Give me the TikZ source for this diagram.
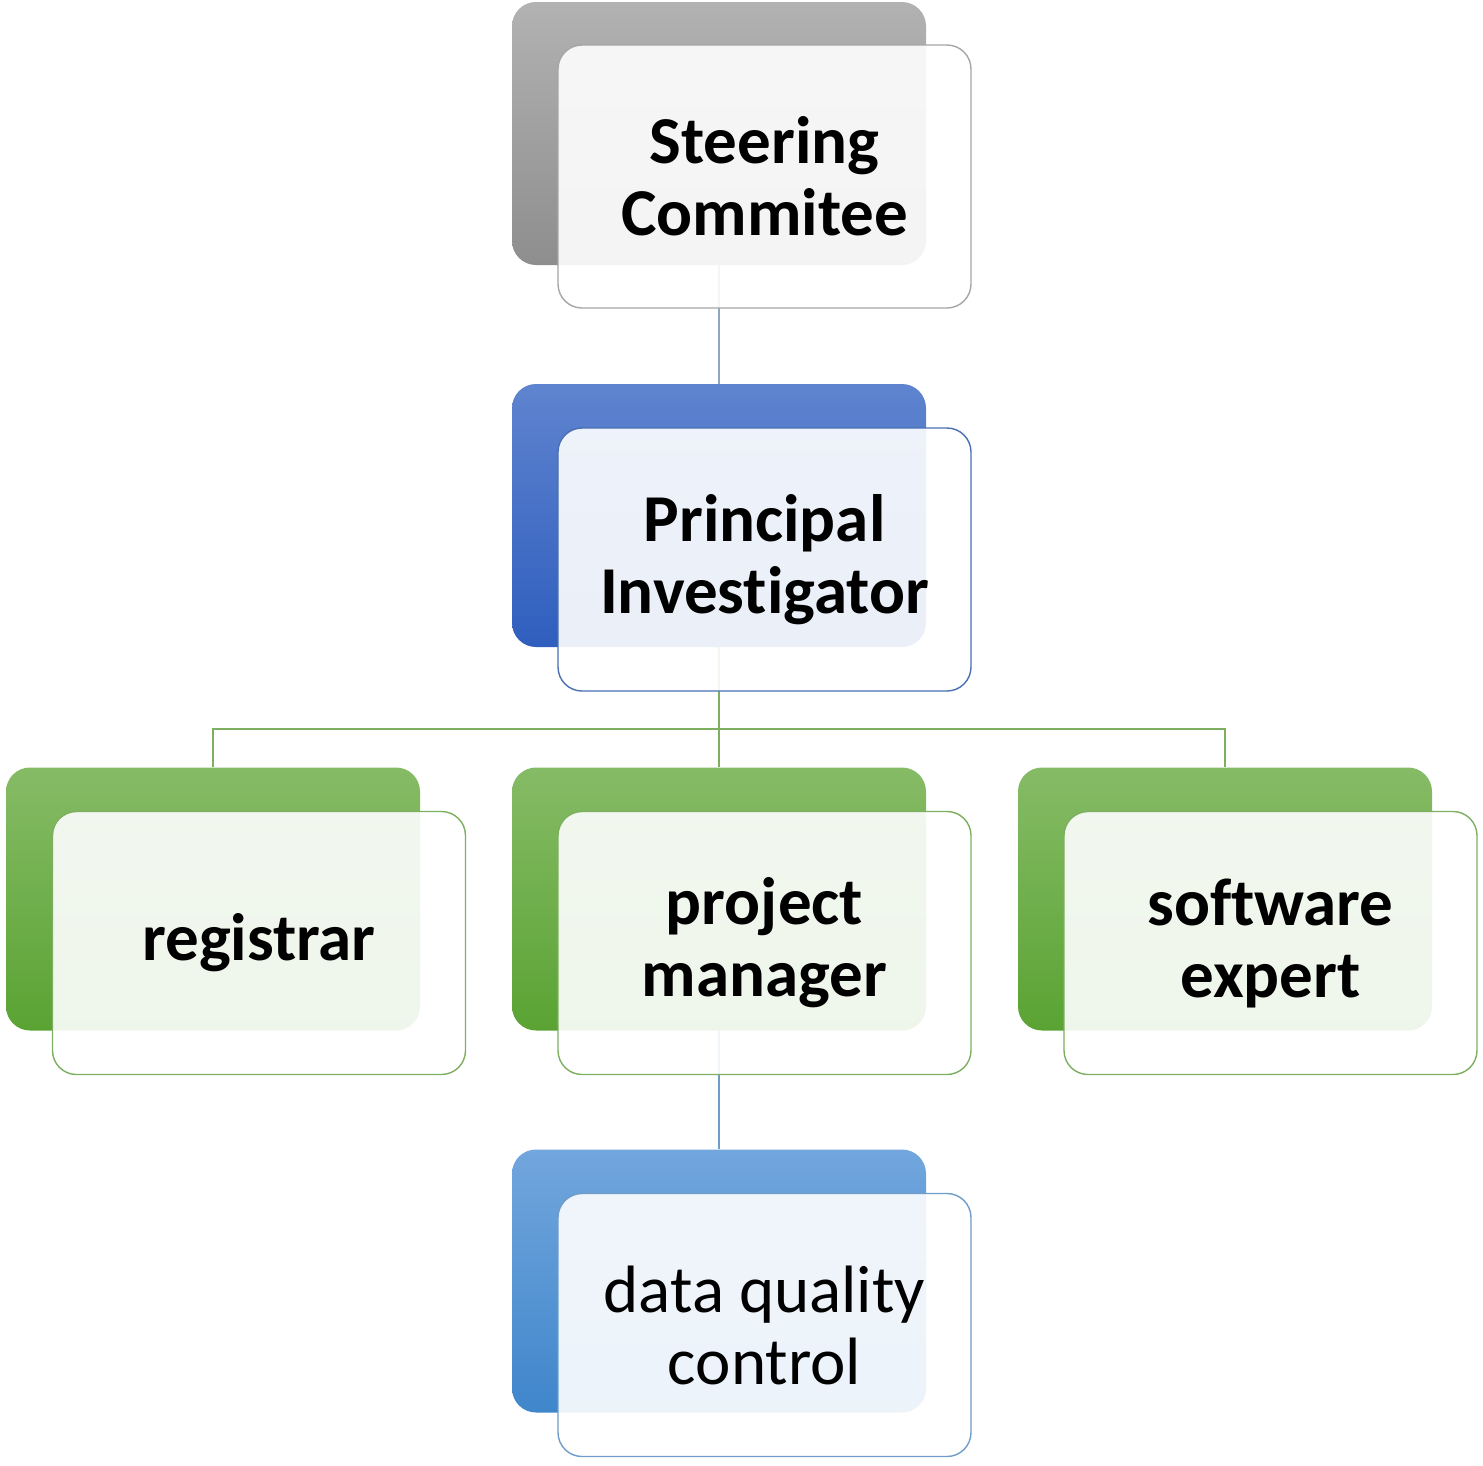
\documentclass[tikz,border=0pt]{standalone}
\usepackage{fontspec}
\setmainfont{Carlito}[Ligatures=NoCommon]
\usetikzlibrary{positioning}
\definecolor{grayTop}{HTML}{B2B2B2}
\definecolor{grayBot}{HTML}{8E8E8E}
\definecolor{grayLine}{HTML}{A6A6A6}
\definecolor{blueTop}{HTML}{5F84CF}
\definecolor{blueBot}{HTML}{2F5EBE}
\definecolor{blueLine}{HTML}{4A6FB2}
\definecolor{greenTop}{HTML}{86BB66}
\definecolor{greenBot}{HTML}{5AA333}
\definecolor{greenLine}{HTML}{7DAF60}
\definecolor{lblueTop}{HTML}{72A6DD}
\definecolor{lblueBot}{HTML}{3F86CB}
\definecolor{lblueLine}{HTML}{6E9DC9}
\definecolor{conTop}{HTML}{8EA6C2}
\tikzset{
  backbox/.style={rectangle, rounded corners=24pt, minimum width=414pt, minimum height=263pt, inner sep=0pt, shading angle=15},
  frontbox/.style={rectangle, rounded corners=24pt, minimum width=413pt, minimum height=263pt, inner sep=0pt, line width=1.4pt, fill=white, fill opacity=0.9, text opacity=1, align=center, font=\fontsize{67}{72}\selectfont\bfseries},
  plainlabel/.style={font=\fontsize{67}{72}\selectfont\mdseries},
  graybk/.style={top color=grayTop, bottom color=grayBot},
  bluebk/.style={top color=blueTop, bottom color=blueBot},
  greenbk/.style={top color=greenTop, bottom color=greenBot},
  lbluebk/.style={top color=lblueTop, bottom color=lblueBot},
  conn/.style={line width=1.4pt},
}
\begin{document}
\begin{tikzpicture}[x=1pt,y=-1pt]
\useasboundingbox (0,0) rectangle (1483,1465);
% back boxes
\node[backbox, graybk]  (scb) at (719,133.5) {};
\node[backbox, bluebk]  (pib) at (719,515.5) {};
\node[backbox, greenbk] (rgb) at (213,899) {};
\node[backbox, greenbk] (pmb) at (719,899) {};
\node[backbox, greenbk] (seb) at (1225,899) {};
\node[backbox, lbluebk] (dqb) at (719,1281) {};
% connectors
\coordinate (hub) at (719,729);
\draw[conn, color=conTop] (scb.south) -- (pib.north);
\draw[conn, color=greenLine] (pib.south) -- (hub);
\draw[conn, color=greenLine] (rgb.north) |- (hub) -| (seb.north);
\draw[conn, color=greenLine] (hub) -- (pmb.north);
\draw[conn, color=lblueLine] (pmb.south) -- (dqb.north);
% front boxes
\node[frontbox, draw=grayLine]  (scf) at (764.5,176.5) {Steering\\Commitee};
\node[frontbox, draw=blueLine]  (pif) at (764.5,559.5) {Principal\\Investigator};
\node[frontbox, draw=greenLine] (rgf) at (259,943) {registrar};
\node[frontbox, draw=greenLine] (pmf) at (764.5,943) {project\\manager};
\node[frontbox, draw=greenLine] (sef) at (1270.5,943) {software\\expert};
\node[frontbox, draw=lblueLine, plainlabel] (dqf) at (764.5,1325) {data quality\\control};
\end{tikzpicture}
\end{document}
